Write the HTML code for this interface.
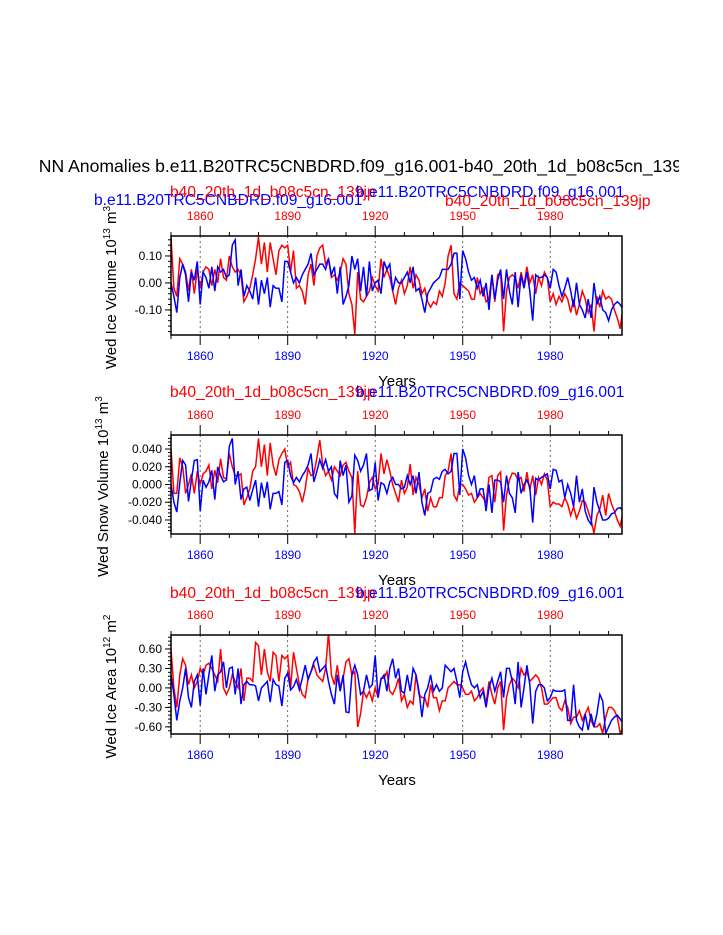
<!DOCTYPE html>
<html><head><meta charset="utf-8">
<style>
html,body{margin:0;padding:0;background:#fff;overflow:hidden;width:723px;height:935px}
svg{display:block;font-family:"Liberation Sans",Arial,sans-serif}
</style></head>
<body>
<svg id="chart" width="723" height="935" viewBox="0 0 723 935" xmlns="http://www.w3.org/2000/svg">
<defs><clipPath id="titleclip"><rect x="40" y="140" width="639" height="50"/></clipPath></defs>
<text x="27" y="172" font-size="17.6" clip-path="url(#titleclip)">ANN Anomalies b.e11.B20TRC5CNBDRD.f09_g16.001-b40_20th_1d_b08c5cn_139jp</text>
<g id="panels"></g>
</svg>
<script>
const years = [];
for (let y = 1850; y <= 2005; y++) years.push(y);

const iceVolBlue = [0,-5,-11,2,7,3,-7,4,1,8, -8,4,2,-2,6,-3,6,4,5,2, 3,14,16,-1,5,-5,-1,-3,-6,2, -8,1,-4,2,-9,-1,-2,-2,-7,8,
 8,4,0,2,0,3,5,7,11,3, 5,7,7,5,9,3,6,-4,6,-8, -5,-1,10,5,9,-3,6,-5,8,-3, 0,1,-4,8,5,7,-3,2,0,0,
 2,4,0,6,-3,-2,-6,-11,-4,-2, 0,1,2,5,5,5,7,11,11,-6, 12,9,4,1,2,-2,1,-5,0,-10, 3,-6,1,5,-6,5,-3,-8,4,-9,
 3,-2,4,-3,-14,3,2,2,3,2, -2,5,4,-1,-5,-2,2,-3,-9,0, -8,-10,-13,-6,-13,0,-8,-5,-10,-11, -14,-10,-8,-7,-8,-10];
const iceVolRed = [17,-2,-5,9,7,4,-3,5,-4,5, -2,4,6,5,-1,5,0,9,2,1, 10,6,4,5,3,-7,-5,-2,3,9, 17,7,15,4,15,9,3,12,14,13,
 14,4,12,-2,-1,-3,-8,3,7,-1, 10,13,14,7,9,2,3,1,4,9, 7,-4,-8,-19,4,-6,-7,-5,-3,2, -1,-3,9,2,5,2,-3,-8,-2,1,
 -4,-1,6,-2,3,1,-4,-2,-7,-9, -7,-8,-3,-5,0,10,14,-4,-6,0, -1,-2,-3,-6,-6,2,-4,-2,-7,-6, 3,-7,3,4,-18,-3,2,3,2,-2,
 4,-1,6,0,3,-4,2,-1,4,2, -7,-4,-8,-5,-7,-4,-6,-11,-6,-12, -8,-3,-6,-11,-8,-18,-5,-9,-3,-6, -5,-6,-10,-13,-17,-8];

const snowBlue = [0,-20,-31,2,27,22,-19,5,27,28, -30,5,-3,3,16,-17,20,10,3,5, 43,52,0,15,-17,-5,-3,-18,-6,5, -25,2,-15,3,-28,-10,-10,-8,-23,25,
 27,10,2,8,3,10,15,22,35,3, 15,28,18,28,15,20,-10,-15,27,10, 22,-20,-13,33,27,15,22,35,-7,-5, 25,-18,2,0,-10,3,8,0,0,-5,
 -3,10,0,10,-10,14,-20,-35,-10,-8, 6,8,6,15,17,12,15,35,35,-12, 40,30,10,0,10,-15,-5,-5,-30,0, -32,5,5,3,-20,10,-10,-15,-32,14,
 -10,0,5,-3,-43,7,5,8,10,12, -5,17,16,3,5,-15,0,-10,-25,10, -20,-5,-30,-40,-45,-3,-20,-30,-40,-40, -38,-33,-32,-27,-26,-30];
const snowRed = [40,-10,-10,30,20,-10,0,12,-10,15, 0,12,15,22,-5,16,2,29,8,6, 35,20,10,10,12,-23,-15,-5,15,20, 52,20,45,10,47,22,10,28,35,40,
 20,25,0,-2,-8,-20,-5,18,10,12, 30,50,22,10,15,5,20,15,10,22, 25,15,8,-55,15,-23,-25,-15,2,8, -5,0,35,12,28,15,0,-10,-20,5,
 -10,-3,23,-12,8,0,-15,-5,-30,-15, -25,-25,-15,-15,10,15,35,-12,-18,0, 0,-5,-12,-10,-20,-15,-10,-15,-20,8, 10,-20,10,14,-52,-12,5,13,12,5,
 8,-8,14,-6,10,-12,8,0,12,5, -25,-20,-22,-22,-25,-15,-22,-35,-25,-38, -30,-18,-20,-30,-40,-55,-35,-28,-12,-35, -10,-22,-30,-40,-47,-30];

const areaBlue = [20,-10,-50,-20,0,30,-15,-30,10,20, -27,30,-10,20,50,-5,20,25,40,0, 30,32,-10,30,-25,5,10,5,5,3, -20,0,5,10,-22,13,5,3,-28,15,
 23,-3,2,13,-3,15,35,13,25,40, 47,25,30,35,10,-10,-25,20,-5,20, -37,-38,20,35,20,-10,-5,20,0,5, 50,-15,13,20,-5,30,45,15,30,-5,
 -8,20,-5,30,20,-5,-45,-10,0,20, -5,5,-5,0,35,30,25,30,10,-15, 25,40,20,5,0,5,-15,-5,-30,0, 15,-5,10,25,-15,30,30,10,-25,40,
 -30,0,35,5,-55,-5,5,5,0,-20, -15,-3,-5,-5,-5,-3,-50,-50,5,-50, -60,-65,-40,-65,-40,-60,-40,-10,-20,-70, -60,-50,-45,-42,-48,-55];
const areaRed = [60,0,-30,20,45,35,5,20,0,10, 30,20,35,38,30,20,10,60,0,-10, 0,20,10,0,30,-20,15,15,10,70, 65,20,60,25,10,55,50,10,50,45,
 50,0,55,30,5,-10,-15,15,25,35, 20,15,10,30,85,20,5,35,0,15, 40,45,20,25,-60,-40,-5,-15,-5,-20, 0,-15,15,15,25,-5,-10,0,15,-20,
 -10,-30,-20,-25,20,-10,-15,-15,-30,5, -15,-15,-35,-20,-20,0,5,10,5,5, 0,-10,-10,-5,-20,-15,-5,0,-25,10, -10,-25,0,10,-65,-15,5,15,10,0,
 30,20,25,10,15,20,15,0,-25,-25, -20,-15,-15,-30,-35,-20,-30,-55,-45,-45, -35,-50,-40,-30,-50,-60,-60,-55,-70,-45, -30,-30,-35,-45,-70,-60];

const yearTicks = [1860, 1890, 1920, 1950, 1980];
const iceTicks = [0.10, 0.00, -0.10];
const snowTicks = [0.040, 0.020, 0.000, -0.020, -0.040];
const areaTicks = [0.60, 0.30, 0.00, -0.30, -0.60];

const NS = "http://www.w3.org/2000/svg";
const root = document.getElementById('panels');
function mk(tag, attrs, parent) {
  const e = document.createElementNS(NS, tag);
  for (const k in attrs) e.setAttribute(k, attrs[k]);
  (parent || root).appendChild(e);
  return e;
}
const X0 = 171, X1 = 622, Y0 = 1850, Y1 = 2004.6;
function xScale(yr) { return X0 + (yr - Y0) * (X1 - X0) / (Y1 - Y0); }

function panel(cfg) {
  const g = mk('g', {});
  
  
  const top = cfg.top, bot = cfg.top + 99;
  const yScale = v => bot - (v - cfg.min) * 99 / (cfg.max - cfg.min);
  yearTicks.forEach(yr => {
    const l = mk('line', {x1: xScale(yr), x2: xScale(yr), y1: top, y2: bot, stroke: '#444', 'stroke-width': 0.8, 'stroke-dasharray': '2,3'}, g);
    
    
  });
  const clipId = 'clip' + cfg.top;
  const cp = mk('clipPath', {id: clipId}, g);
  mk('rect', {x: X0, y: top, width: X1 - X0, height: 99}, cp);
  [[cfg.red, 'red', 0.01 * cfg.unit], [cfg.blue, 'blue', 0.01 * cfg.unit]].forEach(([arr, col, sc]) => {
    const pts = arr.map((v, j) => xScale(years[j]).toFixed(1) + ',' + yScale(v * sc).toFixed(1)).join(' ');
    const p = mk('polyline', {points: pts, fill: 'none', stroke: col, 'stroke-width': 1.5, 'clip-path': 'url(#' + clipId + ')'}, g);
    
    
  });
  const fr = mk('rect', {x: X0, y: top, width: X1 - X0, height: 99, fill: 'none', stroke: '#000', 'stroke-width': 1.5}, g);
  
  
  for (let yr = 1850; yr <= 2000; yr += 10) {
    const major = yearTicks.includes(yr);
    const L = major ? 10 : 4;
    mk('line', {x1: xScale(yr), x2: xScale(yr), y1: top, y2: top - L, stroke: '#000', 'stroke-width': 1}, g);
    mk('line', {x1: xScale(yr), x2: xScale(yr), y1: bot, y2: bot + L, stroke: '#000', 'stroke-width': 1}, g);
  }
  yearTicks.forEach(yr => {
    const t1 = mk('text', {x: xScale(yr), y: top - 16, 'font-size': 12, fill: 'red', 'text-anchor': 'middle'}, g);
    t1.textContent = yr;
    
    
    const t2 = mk('text', {x: xScale(yr), y: bot + 25, 'font-size': 12, fill: 'blue', 'text-anchor': 'middle'}, g);
    t2.textContent = yr;
    
    
  });
  const step = cfg.ticks[0] - cfg.ticks[1];
  for (let v = cfg.ticks[cfg.ticks.length - 1] - step; v <= cfg.max + 1e-9; v += step / 5) {
    if (v < cfg.min - 1e-9) continue;
    mk('line', {x1: X0, x2: X0 - 3, y1: yScale(v), y2: yScale(v), stroke: '#000', 'stroke-width': 1}, g);
  }
  cfg.ticks.forEach(v => {
    mk('line', {x1: X0, x2: X0 - 6, y1: yScale(v), y2: yScale(v), stroke: '#000', 'stroke-width': 1}, g);
    const t = mk('text', {x: X0 - 9, y: yScale(v) + 4, 'font-size': 12, 'text-anchor': 'end'}, g);
    t.textContent = v.toFixed(cfg.dec);
    
    
  });
  const xt = mk('text', {x: 397, y: bot + 51, 'font-size': 15, 'text-anchor': 'middle'}, g);
  xt.textContent = 'Years';
  
  
  const cy = (top + bot) / 2 + 2;
  const yt = mk('text', {x: 0, y: 0, 'font-size': 15, 'text-anchor': 'middle', transform: 'translate(' + cfg.ytx + ',' + cy + ') rotate(-90)'}, g);
  yt.innerHTML = cfg.ylabel + ' 10<tspan dy="-6" font-size="10">' + cfg.exp + '</tspan><tspan dy="6"> m</tspan><tspan dy="-6" font-size="10">' + cfg.pow + '</tspan>';
  
  
  cfg.titles.forEach(tt => {
    const t = mk('text', {x: tt[0], y: tt[1], 'font-size': 15.6, fill: tt[3]}, g);
    t.textContent = tt[2];
    
    
  });
}
const B = 'b.e11.B20TRC5CNBDRD.f09_g16.001', R = 'b40_20th_1d_b08c5cn_139jp';
panel({name: 'ice-volume-panel', top: 236, min: -0.193, max: 0.174, unit: 1, ticks: iceTicks, dec: 2, blue: iceVolBlue, red: iceVolRed,
  ylabel: 'Wed Ice Volume', exp: '13', pow: '3', ytx: 116,
  titles: [[94, 205, B, 'blue'], [170, 197, R, 'red'], [356, 197, B, 'blue'], [445, 206, R, 'red']]});
panel({name: 'snow-volume-panel', top: 435, min: -0.0558, max: 0.0558, unit: 0.1, ticks: snowTicks, dec: 3, blue: snowBlue, red: snowRed,
  ylabel: 'Wed Snow Volume', exp: '13', pow: '3', ytx: 108,
  titles: [[170, 397, R, 'red'], [356, 397, B, 'blue']]});
panel({name: 'ice-area-panel', top: 635, min: -0.71, max: 0.815, unit: 1, ticks: areaTicks, dec: 2, blue: areaBlue, red: areaRed,
  ylabel: 'Wed Ice Area', exp: '12', pow: '2', ytx: 116,
  titles: [[170, 598, R, 'red'], [356, 598, B, 'blue']]});
</script>
</body></html>
